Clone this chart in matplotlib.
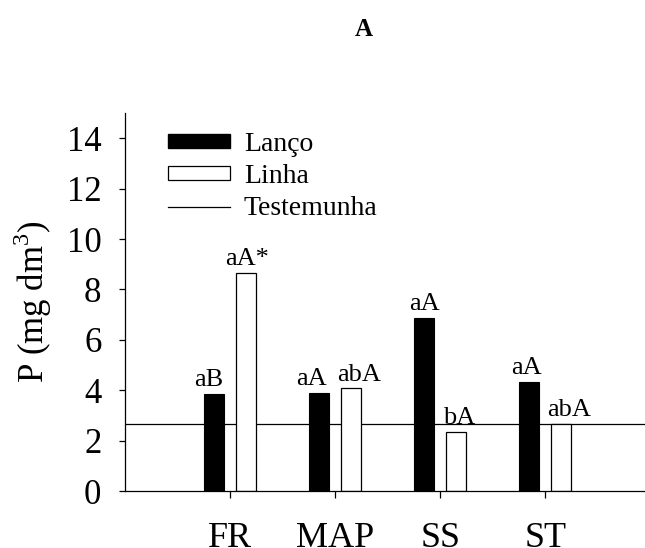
import matplotlib
matplotlib.use("Agg")
import matplotlib.pyplot as plt
import numpy as np
from matplotlib.patches import Patch
from matplotlib.lines import Line2D

categories = ["FR", "MAP", "SS", "ST"]
lanco = [3.85, 3.88, 6.88, 4.34]
linha = [8.66, 4.07, 2.35, 2.66]
testemunha = 2.66
labels_lanco = ["aB", "aA", "aA", "aA"]
labels_linha = ["aA*", "abA", "bA", "abA"]
yticks = [0, 2, 4, 6, 8, 10, 12, 14]

plt.rcParams['font.family'] = ['Liberation Serif', 'DejaVu Serif']
plt.rcParams['mathtext.fontset'] = 'custom'
plt.rcParams['mathtext.rm'] = 'Liberation Serif'

fig = plt.figure(figsize=(6.45, 5.48), dpi=100)
ax = fig.add_axes([125/645, 1-491/548, 520/645, 378/548])

x = np.arange(len(categories))
w = 0.19
off = 0.15
ax.bar(x - off, lanco, w, color='black', edgecolor='black', linewidth=0.8, zorder=2)
ax.bar(x + off, linha, w, color='white', edgecolor='black', linewidth=0.9, zorder=2)
ax.axhline(testemunha, color='black', linewidth=0.9, zorder=1)

dx1 = [-4, -6, 0, -2]
dx2 = [1, 6, 2, 6]
for i in range(len(categories)):
    ax.annotate(labels_lanco[i], (x[i] - off, lanco[i]), xytext=(dx1[i], 2),
                textcoords='offset points', ha='center', va='bottom', fontsize=19)
    ax.annotate(labels_linha[i], (x[i] + off, linha[i]), xytext=(dx2[i], 2),
                textcoords='offset points', ha='center', va='bottom', fontsize=19)

ax.set_xlim(-1.0, 3.95)
ax.set_ylim(0, 15)
ax.set_yticks(yticks)
ax.set_xticks(x)
ax.set_xticklabels(categories)
ax.spines['top'].set_visible(False)
ax.spines['right'].set_visible(False)
for s in ['left', 'bottom']:
    ax.spines[s].set_linewidth(0.9)
ax.tick_params(axis='y', direction='out', length=4, width=0.9, labelsize=25, pad=13)
ax.tick_params(axis='x', direction='out', length=5, width=0.9, labelsize=26, pad=17)
ax.set_ylabel(r'P (mg dm$^3$)', fontsize=25, va='center')
ax.yaxis.set_label_coords((33-125)/520, 0.5)

handles = [Patch(facecolor='black', edgecolor='black'),
           Patch(facecolor='white', edgecolor='black', linewidth=0.9),
           Line2D([0], [0], color='black', linewidth=0.9)]
ax.legend(handles, ['Lanço', 'Linha', 'Testemunha'], loc='upper left',
          bbox_to_anchor=(0.083, 0.949), frameon=False, fontsize=20,
          handlelength=2.23, handleheight=0.4, handletextpad=0.5,
          labelspacing=0.25, borderpad=0, borderaxespad=0)

fig.text(364/645, 1-30/548, 'A', ha='center', va='center', fontsize=18, fontweight='bold')

fig.savefig('out.png', dpi=100)
